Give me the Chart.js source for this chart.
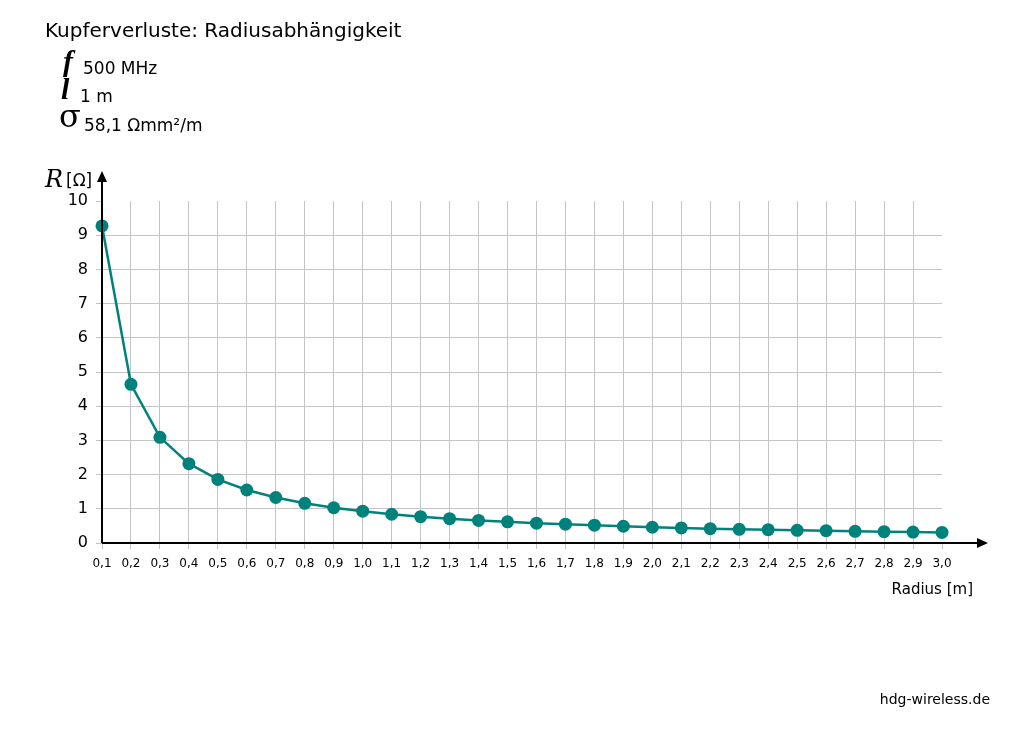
<!DOCTYPE html>
<html>
<head>
<meta charset="utf-8">
<script src="https://cdn.jsdelivr.net/npm/chart.js@4.4.0/dist/chart.umd.min.js"></script>
<style>
	html, body { margin: 0; padding: 0; background: #fff; }
</style>
</head>
<body>
<canvas id="copperChart" width="1035" height="732"></canvas>
<script>
// ===== DATA =====
const radii = ['0,1', '0,2', '0,3', '0,4', '0,5', '0,6', '0,7', '0,8', '0,9', '1,0',
	'1,1', '1,2', '1,3', '1,4', '1,5', '1,6', '1,7', '1,8', '1,9', '2,0',
	'2,1', '2,2', '2,3', '2,4', '2,5', '2,6', '2,7', '2,8', '2,9', '3,0'];
const resistance = [9.27, 4.64, 3.09, 2.32, 1.86, 1.55, 1.33, 1.16, 1.03, 0.93,
	0.84, 0.77, 0.71, 0.66, 0.62, 0.58, 0.55, 0.52, 0.49, 0.46,
	0.44, 0.42, 0.40, 0.39, 0.37, 0.36, 0.34, 0.33, 0.32, 0.31];
const yMin = 0;
const yMax = 10;
const yStep = 1;

const teal = '#00827c';
const gridGray = '#c4c4c4';
const sans = '"DejaVu Sans", sans-serif';
const serif = '"DejaVu Serif", serif';
const times = '"Liberation Serif", serif';

// ===== DECORATION (title, parameters, arrows, axis titles) =====
const decoration = {
	id: 'decoration',
	afterDraw(chart) {
		const ctx = chart.ctx;
		const area = chart.chartArea;
		ctx.save();
		ctx.fillStyle = '#000';
		ctx.strokeStyle = '#000';
		ctx.textBaseline = 'alphabetic';

		// Title
		ctx.font = '20px ' + sans;
		ctx.textAlign = 'left';
		ctx.fillText('Kupferverluste: Radiusabhängigkeit', 45, 37);

		// Parameters
		ctx.font = 'italic bold 30px ' + times;
		ctx.fillText('f', 63, 71);
		ctx.fillText('l', 61, 99);
		ctx.font = '32px ' + serif;
		ctx.fillText('σ', 59, 127);
		ctx.font = '17px ' + sans;
		ctx.fillText('500 MHz', 83, 74);
		ctx.fillText('1 m', 80, 102);
		ctx.fillText('58,1 Ωmm²/m', 84, 131);

		// Axis lines with arrows
		ctx.lineWidth = 2;
		ctx.beginPath();
		ctx.moveTo(area.left, area.bottom);
		ctx.lineTo(area.left, 180);
		ctx.moveTo(area.left, area.bottom);
		ctx.lineTo(980, area.bottom);
		ctx.stroke();
		ctx.beginPath();
		ctx.moveTo(area.left, 171);
		ctx.lineTo(area.left - 5, 182);
		ctx.lineTo(area.left + 5, 182);
		ctx.closePath();
		ctx.fill();
		ctx.beginPath();
		ctx.moveTo(988, area.bottom);
		ctx.lineTo(977, area.bottom - 5);
		ctx.lineTo(977, area.bottom + 5);
		ctx.closePath();
		ctx.fill();

		// Axis titles
		ctx.font = 'italic 24px ' + serif;
		ctx.fillText('R', 45, 187);
		ctx.font = '17px ' + sans;
		ctx.fillText('[Ω]', 66, 186);
		ctx.font = '15px ' + sans;
		ctx.textAlign = 'right';
		ctx.fillText('Radius [m]', 973, 594);

		// Source
		ctx.font = '14px ' + sans;
		ctx.fillText('hdg-wireless.de', 990, 704);
		ctx.restore();
	}
};

// ===== CHART =====
const ctx = document.getElementById('copperChart').getContext('2d');

new Chart(ctx, {
	type: 'line',
	data: {
		labels: radii,
		datasets: [{
			data: resistance,
			borderColor: teal,
			backgroundColor: teal,
			borderWidth: 2.5,
			pointRadius: 6.5,
			pointHoverRadius: 6.5,
			pointBorderWidth: 0,
			tension: 0,
			clip: false
		}]
	},
	options: {
		responsive: false,
		animation: false,
		layout: {
			padding: { top: 201, right: 93, bottom: 0, left: 0 }
		},
		plugins: {
			legend: { display: false },
			tooltip: { enabled: false }
		},
		scales: {
			x: {
				offset: false,
				afterFit(scale) { scale.height = 189; },
				grid: {
					// no line at the last category, only its tick mark
					color: (c) => c.index === radii.length - 1 ? 'rgba(0,0,0,0)' : gridGray,
					tickColor: gridGray,
					lineWidth: 1,
					tickLength: 6,
					drawTicks: true
				},
				border: { display: false },
				ticks: {
					autoSkip: false,
					maxRotation: 0,
					padding: 8,
					color: '#000',
					font: { size: 12, family: sans }
				}
			},
			y: {
				min: yMin,
				max: yMax,
				afterFit(scale) { scale.width = 102; },
				grid: {
					// no line at the top value, only its tick mark
					color: (c) => c.tick && c.tick.value === yMax ? 'rgba(0,0,0,0)' : gridGray,
					tickColor: gridGray,
					lineWidth: 1,
					tickLength: 6,
					drawTicks: true
				},
				border: { display: false },
				ticks: {
					stepSize: yStep,
					padding: 8,
					color: '#000',
					font: { size: 16, family: sans }
				}
			}
		}
	},
	plugins: [decoration]
});
</script>
</body>
</html>
